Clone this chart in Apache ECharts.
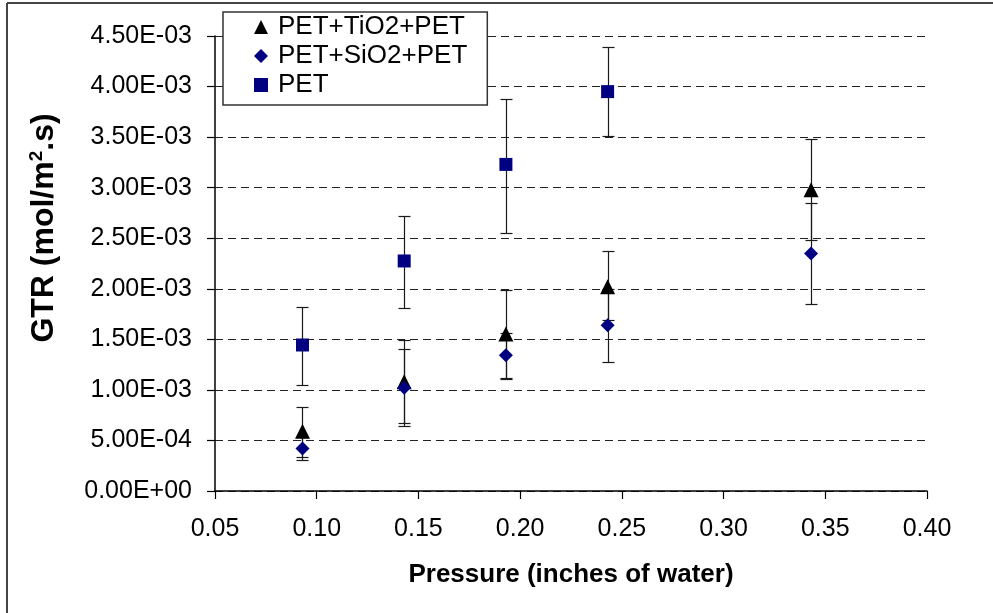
<!DOCTYPE html>
<html><head><meta charset="utf-8">
<script src="https://cdn.jsdelivr.net/npm/echarts@6/dist/echarts.min.js"></script>
<style>html,body{margin:0;padding:0;background:#fff}#c{width:993px;height:613px}</style>
</head><body><div id="c"></div>
<script>
// ---- data ----
const seriesNames = ['PET+TiO2+PET', 'PET+SiO2+PET', 'PET'];
const xTickLabels = ['0.05','0.10','0.15','0.20','0.25','0.30','0.35','0.40'];
const yTickLabels = ['0.00E+00','5.00E-04','1.00E-03','1.50E-03','2.00E-03','2.50E-03','3.00E-03','3.50E-03','4.00E-03','4.50E-03'];

const tioX    = [0.093, 0.143, 0.193, 0.243, 0.343];
const tioY    = [0.00059, 0.00108, 0.001553, 0.00202, 0.00298];
const tioLow  = [0.00034, 0.00067, 0.00111, 0.00169, 0.00248];
const tioHigh = [0.000835, 0.00149, 0.00199, 0.00237, 0.00348];

const sioX    = [0.093, 0.143, 0.193, 0.243, 0.343];
const sioY    = [0.00042, 0.00102, 0.001342, 0.00164, 0.00235];
const sioLow  = [0.00031, 0.00064, 0.00112, 0.00128, 0.00185];
const sioHigh = [0.00053, 0.00140, 0.00156, 0.00200, 0.00285];

const petX    = [0.093, 0.143, 0.193, 0.243];
const petY    = [0.001444, 0.002275, 0.00323, 0.00395];
const petLow  = [0.001045, 0.00181, 0.00255, 0.00351];
const petHigh = [0.00182, 0.00272, 0.00388, 0.00439];

// ---- build ----
const pts = (xs, ys) => xs.map((x, i) => [x, ys[i]]);
const errs = (xs, lo, hi) => xs.map((x, i) => [x, lo[i], hi[i]]);
const yStep = 0.0005;

function errRender(params, api) {
  const x = api.value(0), lo = api.value(1), hi = api.value(2);
  const a = api.coord([x, lo]), b = api.coord([x, hi]);
  const cx = Math.round(a[0]) + 0.5;
  const yl = Math.round(a[1]) + 0.5, yh = Math.round(b[1]) + 0.5;
  const w = 6;
  const st = { stroke: '#1a1a1a', lineWidth: 1.2 };
  return { type: 'group', children: [
    { type: 'line', shape: { x1: cx, y1: yl, x2: cx, y2: yh }, style: st },
    { type: 'line', shape: { x1: cx - w, y1: yl, x2: cx + w, y2: yl }, style: st },
    { type: 'line', shape: { x1: cx - w, y1: yh, x2: cx + w, y2: yh }, style: st }
  ]};
}

const chart = echarts.init(document.getElementById('c'), null, { renderer: 'canvas' });
const font = 'Arial, "Liberation Sans", sans-serif';
chart.setOption({
  animation: false,
  backgroundColor: '#fff',
  grid: { left: 215, right: 66, top: 36, bottom: 122, containLabel: false },
  legend: {
    data: [
      { name: seriesNames[0], icon: 'triangle' },
      { name: seriesNames[1], icon: 'diamond' },
      { name: seriesNames[2], icon: 'rect' }
    ],
    orient: 'vertical', left: 223, top: 12,
    itemWidth: 14, itemHeight: 14, itemGap: 3,
    padding: [2, 20, 7, 31],
    backgroundColor: '#fff',
    borderColor: '#333', borderWidth: 1.5, borderRadius: 0,
    textStyle: { fontFamily: font, fontSize: 26, color: '#000', lineHeight: 24, padding: [0, 0, 0, 5] },
    selectedMode: false
  },
  xAxis: {
    type: 'value', min: 0.05, max: 0.40, interval: 0.05,
    name: 'Pressure (inches of water)', nameLocation: 'middle', nameGap: 71,
    nameTextStyle: { fontFamily: font, fontSize: 26, fontWeight: 'bold', color: '#000' },
    axisLine: { show: true, onZero: false, lineStyle: { color: '#000', width: 1.5 } },
    axisTick: { show: true, inside: false, length: 8, lineStyle: { color: '#000', width: 1.2 } },
    axisLabel: { fontFamily: font, fontSize: 25, color: '#000', margin: 26,
      formatter: (v) => xTickLabels[Math.round((v - 0.05) / 0.05)] },
    splitLine: { show: false }
  },
  yAxis: {
    type: 'value', min: 0, max: 0.0045, interval: yStep,
    axisLine: { show: true, lineStyle: { color: '#000', width: 1.5 } },
    axisTick: { show: true, inside: false, length: 8, lineStyle: { color: '#000', width: 1.2 } },
    axisLabel: { fontFamily: font, fontSize: 25, color: '#000', margin: 23,
      formatter: (v) => yTickLabels[Math.round(v / yStep)] },
    splitLine: { show: true, lineStyle: { color: '#222', width: 1.2, type: [8, 5] } }
  },
  graphic: [
    { type: 'line', shape: { x1: 7, y1: 3, x2: 993, y2: 3 }, style: { stroke: '#444', lineWidth: 2 }, z: 100 },
    { type: 'line', shape: { x1: 7, y1: 3, x2: 7, y2: 613 }, style: { stroke: '#444', lineWidth: 2 }, z: 100 },
    { type: 'text', x: 44, y: 228, rotation: Math.PI / 2,
      style: {
        text: '{a|GTR (mol/m}{s|2}{a|.s)}',
        align: 'center', verticalAlign: 'middle',
        rich: {
          a: { fontFamily: font, fontSize: 32, fontWeight: 'bold', fill: '#000' },
          s: { fontFamily: font, fontSize: 19, fontWeight: 'bold', fill: '#000', verticalAlign: 'top', padding: [0, 0, 14, 0] }
        }
      } }
  ],
  series: [
    { type: 'custom', name: 'errTiO2', renderItem: errRender, data: errs(tioX, tioLow, tioHigh), encode: { x: 0, y: [1, 2] }, z: 1, silent: true },
    { type: 'custom', name: 'errSiO2', renderItem: errRender, data: errs(sioX, sioLow, sioHigh), encode: { x: 0, y: [1, 2] }, z: 1, silent: true },
    { type: 'custom', name: 'errPET', renderItem: errRender, data: errs(petX, petLow, petHigh), encode: { x: 0, y: [1, 2] }, z: 1, silent: true },
    { type: 'scatter', name: seriesNames[0], data: pts(tioX, tioY), symbol: 'triangle', symbolSize: 15, itemStyle: { color: '#000', opacity: 1 }, z: 5 },
    { type: 'scatter', name: seriesNames[1], data: pts(sioX, sioY), symbol: 'diamond', symbolSize: 14, itemStyle: { color: '#000080', opacity: 1 }, z: 5 },
    { type: 'scatter', name: seriesNames[2], data: pts(petX, petY), symbol: 'rect', symbolSize: 13, itemStyle: { color: '#000080', opacity: 1 }, z: 5 }
  ]
});
</script></body></html>
